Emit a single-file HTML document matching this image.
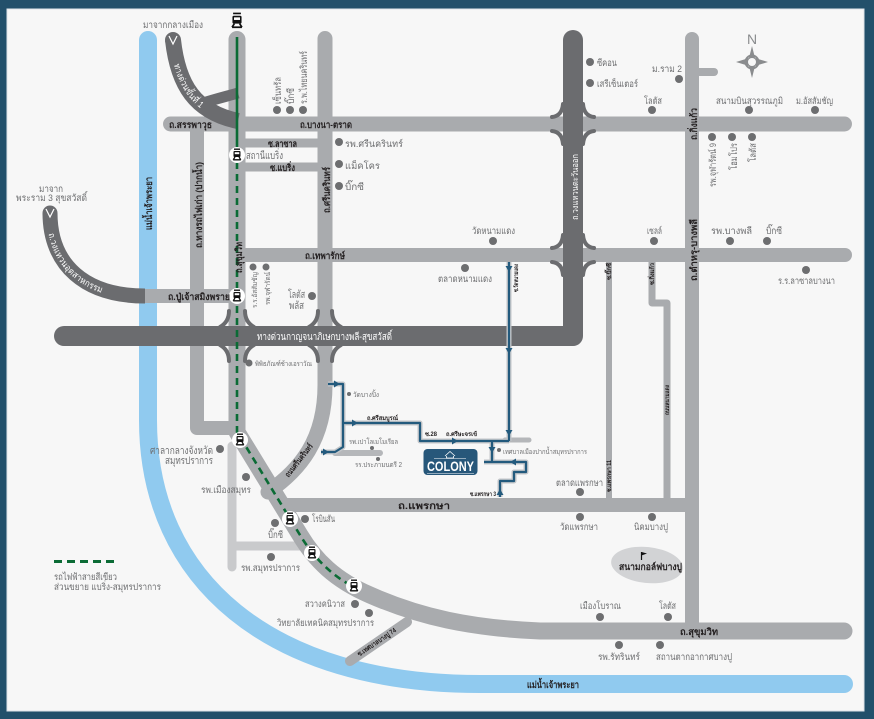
<!DOCTYPE html>
<html><head><meta charset="utf-8">
<style>
html,body{margin:0;padding:0;background:#22506b;}
svg{display:block;}
text{font-family:"Liberation Sans","DejaVu Sans",sans-serif;}
.p{fill:#6d6e70;font-size:9.5px;}
.r{fill:#231f20;font-size:9.5px;font-weight:bold;}
.w{fill:#ffffff;font-size:10px;}
.s{fill:#6d6e70;font-size:7px;}
.t{fill:#231f20;font-size:6px;font-weight:bold;}
</style></head><body>
<svg width="874" height="719" viewBox="0 0 874 719" xmlns="http://www.w3.org/2000/svg">
<defs>
<g id="st"><circle r="8" fill="#fff"/><rect x="-3.5" y="-4" width="7" height="6" rx="1" fill="#111"/><path d="M-3,-5.8H3M-2,2L-3.8,4.8M2,2L3.8,4.8M-3.8,4.8H3.8" stroke="#111" stroke-width="1.3" fill="none"/><rect x="-2.3" y="-2.8" width="4.6" height="2" fill="#fff"/></g>
</defs>
<rect width="874" height="719" fill="#22506b"/>
<rect x="7" y="9" width="857" height="702" fill="#f7f7f7" stroke="#dde3e8" stroke-width="1"/>

<!-- river -->
<path d="M148,40 V420 C148,580 270,684 480,684 H844" fill="none" stroke="#90caef" stroke-width="18" stroke-linecap="round"/>

<!-- thin lighter roads -->
<g fill="none" stroke="#c9cacc" stroke-width="9" stroke-linecap="round">
<path d="M232,446 V567"/>
<path d="M232,546 H300" stroke-linecap="butt"/>
</g>
<g fill="none" stroke="#b5b7ba" stroke-linecap="round">
<path d="M335,453 H380" stroke-width="6"/>
<path d="M505,440 H529" stroke-width="5"/>
</g>

<!-- light roads -->
<g fill="none" stroke="#a9abae" stroke-linejoin="round">
<path d="M170.5,124 H844.5" stroke-width="15" stroke-linecap="round"/>
<path d="M237,255 H845" stroke-width="14" stroke-linecap="round"/>
<path d="M197,124 V428 H237" stroke-width="14"/>
<path d="M245,143 H318" stroke-width="9"/>
<path d="M245,167 H318" stroke-width="9"/>
<path d="M138,296 H237" stroke-width="14"/>
<path d="M325,38.5 V385 C325,440 300,470 268,492" stroke-width="15" stroke-linecap="round"/>
<path d="M692,39 V631" stroke-width="14" stroke-linecap="round"/>
<path d="M692,72 H714" stroke-width="8" stroke-linecap="round"/>
<path d="M280,505 H692" stroke-width="14"/>
<path d="M609,262 V498" stroke-width="6"/>
<path d="M652,262 V303 H667 V498" stroke-width="7"/>
<path d="M350,661 L407,622" stroke-width="10" stroke-linecap="round"/>
<path d="M237,39.5 V432 L300,535 C315,560 335,580 370,595 C420,617 470,628 540,631 H844" stroke-width="17" stroke-linecap="round"/>
</g>

<!-- dark roads -->
<g fill="none" stroke="#6b6c6f">
<path d="M64,336 H573 V40" stroke-width="20" stroke-linecap="round" stroke-linejoin="round"/>
<path d="M50,213 C50,265 85,296 145,296" stroke-width="15"/>
<path d="M173,40 C178,85 195,112 238,121" stroke-width="16"/>
<path d="M200,104 C215,99 228,96 238,93" stroke-width="11"/>
</g>
<circle cx="50" cy="213" r="7.5" fill="#6b6c6f"/>
<circle cx="173" cy="40" r="8" fill="#6b6c6f"/>
<path d="M46,209 L50,217 L54,209" stroke="#fff" stroke-width="1.2" fill="none"/>
<path d="M169,36 L173,44 L177,36" stroke="#fff" stroke-width="1.2" fill="none"/>

<!-- interchange flares -->
<g fill="none" stroke="#6b6c6f" stroke-width="4" stroke-linecap="round">
<path d="M552,117 Q562,116 563,104 M552,131 Q562,132 563,144 M594,117 Q584,116 583,104 M594,131 Q584,132 583,144"/>
<path d="M552,248 Q562,247 563,235 M552,262 Q562,263 563,275 M594,248 Q584,247 583,235 M594,262 Q584,263 583,275"/>
<path d="M229,311 Q229,322 220,327 M245,311 Q245,322 254,327 M229,361 Q229,350 220,345 M245,361 Q245,350 254,345"/>
<path d="M318,311 Q318,322 309,327 M332,311 Q332,322 341,327 M318,361 Q318,350 309,345 M332,361 Q332,350 341,345"/>
</g>

<!-- green line -->
<path d="M237,37 V150" stroke="#0b6b35" stroke-width="2.6" fill="none"/>
<path d="M237,162 V432 L300,535 C312,555 330,575 354,587" stroke="#0b6b35" stroke-width="2.6" fill="none" stroke-dasharray="7 5"/>
<path d="M54,561.5 H116" stroke="#0b6b35" stroke-width="3" stroke-dasharray="8 5"/>

<!-- stations -->
<use href="#st" x="237" y="155"/>
<use href="#st" x="237" y="296"/>
<use href="#st" x="240" y="440"/>
<use href="#st" x="290" y="519"/>
<use href="#st" x="312" y="553"/>
<use href="#st" x="354" y="586"/>
<g transform="translate(237,21) scale(1.3)"><rect x="-3.5" y="-4" width="7" height="6" rx="1" fill="#111"/><path d="M-3,-5.8H3M-2,2L-3.8,4.8M2,2L3.8,4.8M-3.8,4.8H3.8" stroke="#111" stroke-width="1.3" fill="none"/><rect x="-2.3" y="-2.8" width="4.6" height="2" fill="#fff"/></g>

<!-- route -->
<g fill="none" stroke="#c3c6c9" stroke-width="5" stroke-linejoin="round">
<path d="M509,262 V441"/>
<path d="M328,384 H343 V447 L335,452 H321"/>
<path d="M343,423 H420 V441 H509"/>
<path d="M492,441 V462"/>
<path d="M484,462 H526 V472 H514 V481 H500 V497"/>
</g>
<g fill="none" stroke="#235a7d" stroke-width="2.2" stroke-linejoin="round">
<path d="M509,262 V441"/>
<path d="M328,384 H343 V447 L335,452 H321"/>
<path d="M343,423 H420 V441 H509"/>
<path d="M492,441 V462"/>
<path d="M484,462 H526 V472 H514 V481 H500 V497"/>
</g>
<g fill="#235a7d">
<polygon points="340,384 334,380.5 334,387.5"/>
<polygon points="329,452 323,448.5 323,455.5"/>
<polygon points="358,423 352,419.5 352,426.5"/>
<polygon points="458,441 452,437.5 452,444.5"/>
<polygon points="509,272 505.5,266 512.5,266"/>
<polygon points="509,354 505.5,348 512.5,348"/>
<polygon points="509,436 505.5,430 512.5,430"/>
<polygon points="492,453 488.5,447 495.5,447"/>
<polygon points="510,462 516,458.5 516,465.5"/>
<polygon points="500,489 496.5,495 503.5,495"/>
</g>

<!-- colony box -->
<rect x="423.5" y="449" width="54" height="26" rx="4" fill="#27577a"/>
<path d="M445,456 L450,451.5 L455,456 M446.5,456 V458 H453.5 V456" stroke="#fff" stroke-width="0.8" fill="none"/>
<path d="M434,458.5 H466" stroke="#fff" stroke-width="0.5"/>
<text x="427" y="471" font-family="Liberation Serif,serif" font-weight="bold" font-size="14" fill="#fff" textLength="47" lengthAdjust="spacingAndGlyphs">COLONY</text>
<path d="M427,473.5 H474" stroke="#fff" stroke-width="0.6"/>

<!-- golf -->
<ellipse cx="647" cy="565" rx="36" ry="18" fill="#d2d3d5" transform="rotate(6 647 565)"/>
<path d="M641.5,552 V560" stroke="#111" stroke-width="1.2"/>
<polygon points="641.5,552 647,553.5 641.5,555.5" fill="#111"/>

<!-- compass -->
<text x="752" y="44" font-family="Liberation Serif,serif" font-size="14" fill="#8a8c8e" text-anchor="middle">N</text>
<polygon points="752,46 755,58 768,62 755,66 752,78 749,66 736,62 749,58" fill="#8a8c8e"/>
<circle cx="752" cy="62" r="6.5" fill="none" stroke="#8a8c8e" stroke-width="2"/>
<circle cx="752" cy="62" r="4" fill="#f7f7f7"/>

<!-- POI dots -->
<g fill="#6d6e70">
<circle cx="277" cy="110" r="4"/><circle cx="290" cy="110" r="4"/><circle cx="303" cy="110" r="4"/>
<circle cx="339" cy="142" r="4"/><circle cx="339" cy="164" r="4"/><circle cx="339" cy="186" r="4"/>
<circle cx="590" cy="62" r="4"/><circle cx="590" cy="83" r="4"/><circle cx="679" cy="79" r="4"/>
<circle cx="652" cy="110" r="4"/><circle cx="749" cy="110" r="4"/><circle cx="815" cy="110" r="4"/>
<circle cx="712" cy="137" r="4"/><circle cx="732" cy="137" r="4"/><circle cx="752" cy="137" r="4"/>
<circle cx="493" cy="241" r="4"/><circle cx="465" cy="268" r="4"/><circle cx="654" cy="241" r="4"/>
<circle cx="730" cy="241" r="4"/><circle cx="767" cy="241" r="4"/><circle cx="806" cy="270" r="4"/>
<circle cx="253" cy="267" r="3.5"/><circle cx="266" cy="267" r="3.5"/><circle cx="312" cy="296" r="4"/>
<circle cx="249" cy="363" r="3.5"/><circle cx="349" cy="394" r="2"/><circle cx="372" cy="448" r="2"/>
<circle cx="378" cy="459" r="2"/><circle cx="499" cy="450" r="2"/>
<circle cx="220" cy="449" r="4"/><circle cx="246" cy="477" r="4"/><circle cx="305" cy="519" r="4"/>
<circle cx="275" cy="523" r="4"/><circle cx="271" cy="557" r="4"/><circle cx="355" cy="604" r="4"/>
<circle cx="369" cy="613" r="4"/><circle cx="580" cy="492" r="4"/><circle cx="580" cy="517" r="4"/>
<circle cx="652" cy="517" r="4"/><circle cx="600" cy="617" r="4"/><circle cx="668" cy="617" r="4"/>
<circle cx="619" cy="645" r="4"/><circle cx="660" cy="645" r="4"/>
</g>

<!-- labels -->
<text class="p" x="143" y="28" textLength="60" lengthAdjust="spacingAndGlyphs">มาจากกลางเมือง</text>
<text class="p" x="39" y="192" textLength="24" lengthAdjust="spacingAndGlyphs">มาจาก</text>
<text class="p" x="16" y="201" textLength="71" lengthAdjust="spacingAndGlyphs">พระราม 3 สุขสวัสดิ์</text>
<text class="p" transform="translate(281,104) rotate(-90)" textLength="27" lengthAdjust="spacingAndGlyphs">เซ็นทรัล</text>
<text class="p" transform="translate(294,104) rotate(-90)" textLength="16" lengthAdjust="spacingAndGlyphs">บิ๊กซี</text>
<text class="p" transform="translate(307,104) rotate(-90)" textLength="53" lengthAdjust="spacingAndGlyphs">ร.พ.ไทยนครินทร์</text>
<text class="r" x="169" y="128" textLength="43" lengthAdjust="spacingAndGlyphs">ถ.สรรพาวุธ</text>
<text class="r" x="300" y="128" textLength="52" lengthAdjust="spacingAndGlyphs">ถ.บางนา-ตราด</text>
<text class="r" x="268" y="147" textLength="29" lengthAdjust="spacingAndGlyphs">ซ.ลาซาล</text>
<text class="r" x="270" y="171" textLength="25" lengthAdjust="spacingAndGlyphs">ซ.แบริ่ง</text>
<text class="p" x="246" y="159" textLength="37" lengthAdjust="spacingAndGlyphs" style="font-size:10.5px">สถานีแบริ่ง</text>
<text class="p" x="345" y="147" textLength="58" lengthAdjust="spacingAndGlyphs">รพ.ศรีนครินทร์</text>
<text class="p" x="345" y="169" textLength="35" lengthAdjust="spacingAndGlyphs">แม็คโคร</text>
<text class="p" x="345" y="190" textLength="19" lengthAdjust="spacingAndGlyphs">บิ๊กซี</text>
<text class="r" transform="translate(330,213) rotate(-90)" textLength="46" lengthAdjust="spacingAndGlyphs">ถ.ศรีนครินทร์</text>
<text class="r" transform="translate(202,248) rotate(-90)" textLength="86" lengthAdjust="spacingAndGlyphs">ถ.ทางรถไฟเก่า (ปากน้ำ)</text>
<text class="r" transform="translate(152,230) rotate(-90)" textLength="53" lengthAdjust="spacingAndGlyphs">แม่น้ำเจ้าพระยา</text>
<text class="p" x="597" y="66" textLength="20" lengthAdjust="spacingAndGlyphs">ซีคอน</text>
<text class="p" x="597" y="87" textLength="41" lengthAdjust="spacingAndGlyphs">เสรีเซ็นเตอร์</text>
<text class="p" x="652" y="72" textLength="30" lengthAdjust="spacingAndGlyphs">ม.ราม 2</text>
<text class="p" x="644" y="104" textLength="18" lengthAdjust="spacingAndGlyphs">โลตัส</text>
<text class="p" x="716" y="104" textLength="67" lengthAdjust="spacingAndGlyphs">สนามบินสุวรรณภูมิ</text>
<text class="p" x="796" y="104" textLength="37" lengthAdjust="spacingAndGlyphs">ม.อัสสัมชัญ</text>
<text class="r" transform="translate(697,140) rotate(-90)" textLength="32" lengthAdjust="spacingAndGlyphs">ถ.กิ่งแก้ว</text>
<text class="p" transform="translate(716,187) rotate(-90)" textLength="44" lengthAdjust="spacingAndGlyphs">รพ.จุฬารัตน์ 9</text>
<text class="p" transform="translate(737,170) rotate(-90)" textLength="27" lengthAdjust="spacingAndGlyphs">โฮมโปร</text>
<text class="p" transform="translate(756,162) rotate(-90)" textLength="19" lengthAdjust="spacingAndGlyphs">โลตัส</text>
<text class="w" transform="translate(578,220) rotate(-90)" textLength="66" lengthAdjust="spacingAndGlyphs" style="font-size:9px">ถ.วงแหวนตะวันออก</text>
<text class="p" x="472" y="234" textLength="43" lengthAdjust="spacingAndGlyphs">วัดหนามแดง</text>
<text class="p" x="438" y="282" textLength="54" lengthAdjust="spacingAndGlyphs">ตลาดหนามแดง</text>
<text class="p" x="647" y="234" textLength="15" lengthAdjust="spacingAndGlyphs">เซลล์</text>
<text class="p" x="711" y="234" textLength="41" lengthAdjust="spacingAndGlyphs">รพ.บางพลี</text>
<text class="p" x="766" y="234" textLength="16" lengthAdjust="spacingAndGlyphs">บิ๊กซี</text>
<text class="p" x="778" y="284" textLength="57" lengthAdjust="spacingAndGlyphs">ร.ร.ลาซาลบางนา</text>
<text class="r" x="305" y="259" textLength="40" lengthAdjust="spacingAndGlyphs">ถ.เทพารักษ์</text>
<text class="r" transform="translate(697,281) rotate(-90)" textLength="62" lengthAdjust="spacingAndGlyphs">ถ.ตำหรุ-บางพลี</text>
<text class="r" transform="translate(242,273) rotate(-90)" textLength="31" lengthAdjust="spacingAndGlyphs">ถ.สุขุมวิท</text>
<text class="s" transform="translate(257,308) rotate(-90)" textLength="36" lengthAdjust="spacingAndGlyphs">ร.ร.อัสสัมชัญ</text>
<text class="s" transform="translate(270,305) rotate(-90)" textLength="33" lengthAdjust="spacingAndGlyphs">รพ.จุฬารัตน์</text>
<text class="p" x="288" y="298" textLength="17" lengthAdjust="spacingAndGlyphs" style="font-size:10.5px">โลตัส</text>
<text class="p" x="289" y="309" textLength="15" lengthAdjust="spacingAndGlyphs" style="font-size:10.5px">พลัส</text>
<text class="r" x="168" y="300" textLength="62" lengthAdjust="spacingAndGlyphs">ถ.ปู่เจ้าสมิงพราย</text>
<text class="w" x="257" y="340" textLength="135" lengthAdjust="spacingAndGlyphs">ทางด่วนกาญจนาภิเษกบางพลี-สุขสวัสดิ์</text>
<text class="s" x="255" y="366" textLength="57" lengthAdjust="spacingAndGlyphs">พิพิธภัณฑ์ช้างเอราวัณ</text>
<text class="s" x="353" y="397" textLength="26" lengthAdjust="spacingAndGlyphs">วัดบางปิ้ง</text>
<text class="s" x="349" y="444" textLength="49" lengthAdjust="spacingAndGlyphs">รพ.เปาโลเมโมเรียล</text>
<text class="s" x="355" y="467" textLength="47" lengthAdjust="spacingAndGlyphs">รร.ประภามนตรี 2</text>
<text class="s" x="503" y="454" textLength="84" lengthAdjust="spacingAndGlyphs">เทศบาลเมืองปากน้ำสมุทรปราการ</text>
<text class="p" x="150" y="454" textLength="63" lengthAdjust="spacingAndGlyphs" style="font-size:10.5px">ศาลากลางจังหวัด</text>
<text class="p" x="165" y="464" textLength="48" lengthAdjust="spacingAndGlyphs" style="font-size:10.5px">สมุทรปราการ</text>
<text class="p" x="201" y="493" textLength="50" lengthAdjust="spacingAndGlyphs">รพ.เมืองสมุทร</text>
<text class="p" x="312" y="522" textLength="23" lengthAdjust="spacingAndGlyphs">โรบินสัน</text>
<text class="p" x="268" y="538" textLength="15" lengthAdjust="spacingAndGlyphs">บิ๊กซี</text>
<text class="p" x="241" y="571" textLength="59" lengthAdjust="spacingAndGlyphs">รพ.สมุทรปราการ</text>
<text class="p" x="305" y="607" textLength="40" lengthAdjust="spacingAndGlyphs">สวางคนิวาส</text>
<text class="p" x="277" y="626" textLength="97" lengthAdjust="spacingAndGlyphs">วิทยาลัยเทคนิคสมุทรปราการ</text>
<text class="t" transform="translate(378,644) rotate(-34)" text-anchor="middle" textLength="45" lengthAdjust="spacingAndGlyphs" style="font-size:7px">ซ.เทศบาลบางปู 74</text>
<text class="t" transform="translate(301,462) rotate(-52)" text-anchor="middle" textLength="40" lengthAdjust="spacingAndGlyphs" style="font-size:8px">ถนนศรีนครินทร์</text>
<text class="r" x="398" y="509" textLength="52" lengthAdjust="spacingAndGlyphs">ถ.แพรกษา</text>
<text class="p" x="556" y="486" textLength="47" lengthAdjust="spacingAndGlyphs">ตลาดแพรกษา</text>
<text class="p" x="560" y="530" textLength="38" lengthAdjust="spacingAndGlyphs">วัดแพรกษา</text>
<text class="p" x="634" y="530" textLength="34" lengthAdjust="spacingAndGlyphs">นิคมบางปู</text>
<text class="r" x="619" y="570" textLength="63" lengthAdjust="spacingAndGlyphs">สนามกอล์ฟบางปู</text>
<text class="p" x="580" y="609" textLength="41" lengthAdjust="spacingAndGlyphs">เมืองโบราณ</text>
<text class="p" x="659" y="609" textLength="17" lengthAdjust="spacingAndGlyphs">โลตัส</text>
<text class="r" x="680" y="635" textLength="38" lengthAdjust="spacingAndGlyphs">ถ.สุขุมวิท</text>
<text class="p" x="598" y="660" textLength="42" lengthAdjust="spacingAndGlyphs">รพ.รัทรินทร์</text>
<text class="p" x="656" y="660" textLength="76" lengthAdjust="spacingAndGlyphs">สถานตากอากาศบางปู</text>
<text class="r" x="527" y="688" textLength="52" lengthAdjust="spacingAndGlyphs">แม่น้ำเจ้าพระยา</text>
<text class="p" x="54" y="580" textLength="63" lengthAdjust="spacingAndGlyphs">รถไฟฟ้าสายสีเขียว</text>
<text class="p" x="54" y="590" textLength="107" lengthAdjust="spacingAndGlyphs">ส่วนขยาย  แบริ่ง-สมุทรปราการ</text>

<!-- labels along dark curves -->
<path id="c1" d="M173,40 C178,85 195,112 238,121" fill="none"/>
<path id="c2" d="M50,213 C50,265 85,296 145,296" fill="none"/>
<text class="w" dy="3.5" style="font-size:9px"><textPath href="#c1" startOffset="24" textLength="50" lengthAdjust="spacingAndGlyphs">ทางด่วนขั้นที่ 1</textPath></text>
<text class="w" dy="3.5" style="font-size:9px"><textPath href="#c2" startOffset="20" textLength="80" lengthAdjust="spacingAndGlyphs">ถ.วงแหวนอุตสาหกรรม</textPath></text>

<!-- tiny road labels -->
<text class="t" transform="translate(518,292) rotate(-90)" textLength="28" lengthAdjust="spacingAndGlyphs">ซ.วัดหนามแดง</text>
<text class="t" transform="translate(611,280) rotate(-90)" textLength="17" lengthAdjust="spacingAndGlyphs">ซ.บิ๊กซี</text>
<text class="t" transform="translate(611,492) rotate(-90)" textLength="32" lengthAdjust="spacingAndGlyphs">ซ.แพรกษา 11</text>
<text class="t" transform="translate(654,285) rotate(-90)" textLength="22" lengthAdjust="spacingAndGlyphs">ซ.กิ่งแก้ว</text>
<text class="t" transform="translate(669,415) rotate(-90)" textLength="30" lengthAdjust="spacingAndGlyphs">ถนนหนามแดง</text>
<text class="t" x="367" y="420" textLength="31" lengthAdjust="spacingAndGlyphs">ถ.ศรีสมบูรณ์</text>
<text class="t" x="425" y="436" textLength="12" lengthAdjust="spacingAndGlyphs">ซ.28</text>
<text class="t" x="446" y="436" textLength="31" lengthAdjust="spacingAndGlyphs">ถ.ศรีษะจรเข้</text>
<text class="t" x="470" y="496" textLength="26" lengthAdjust="spacingAndGlyphs">ซ.แพรกษา 3</text>
</svg>
</body></html>
